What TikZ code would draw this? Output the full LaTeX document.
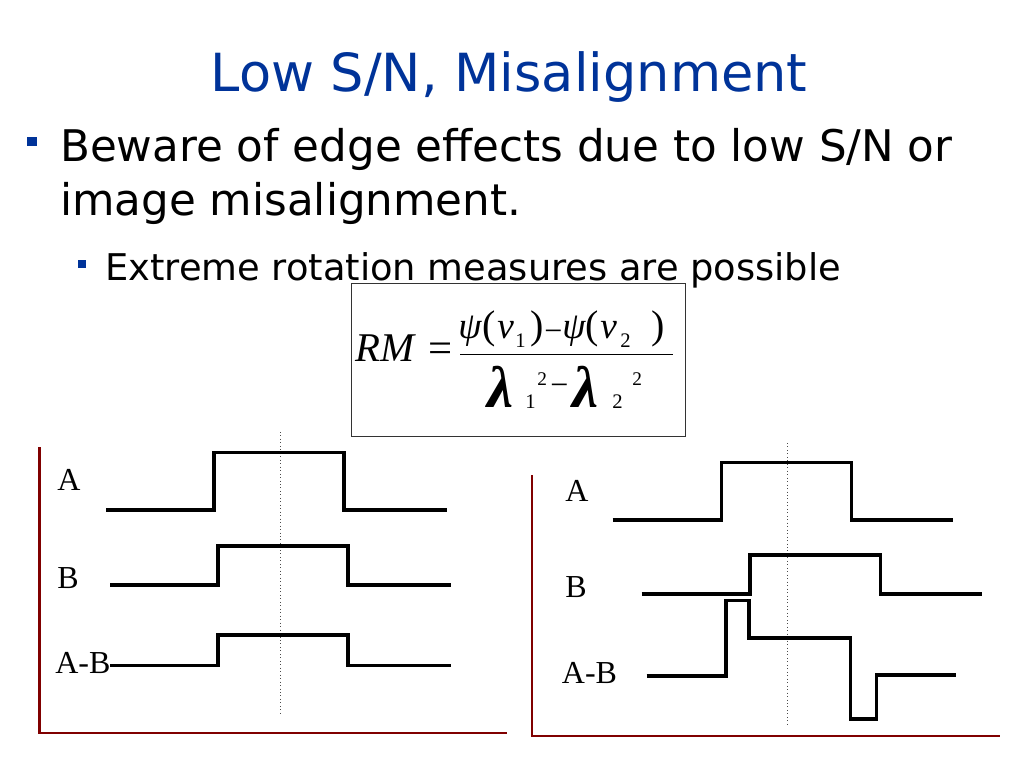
\documentclass[tikz,border=0pt]{standalone}
\usepackage{fontspec}
\setmainfont{DejaVu Sans}
\newfontfamily\tnr{Liberation Serif}
\definecolor{titleblue}{RGB}{0,51,153}
\definecolor{axisred}{RGB}{128,0,0}
\begin{document}
\begin{tikzpicture}[x=0.75pt,y=-0.75pt,
  txt/.style={inner sep=0pt, anchor=base west},
  wave/.style={line width=2.3pt, black},
  axisline/.style={draw=axisred, line width=2pt},
  guide/.style={dotted, line width=0.6pt, black!70},
  bul/.style={fill=titleblue},
  numf/.style={txt, font={\tnr\fontsize{32}{36}\selectfont}},
  parf/.style={txt, font={\tnr\fontsize{30}{34}\selectfont}},
  psif/.style={txt, font={\tnr\itshape\fontsize{28}{32}\selectfont}},
  nuf/.style={txt, font={\tnr\itshape\fontsize{28}{32}\selectfont}},
  minf/.style={txt, font={\tnr\fontsize{24}{28}\selectfont}},
  subf/.style={txt, font={\tnr\fontsize{15.5}{18}\selectfont}},
  supf/.style={txt, font={\tnr\fontsize{14.5}{17}\selectfont}},
  lam/.style={txt, font={\tnr\bfseries\itshape\fontsize{44}{50}\selectfont}},
  lab/.style={txt, font={\tnr\fontsize{24}{28}\selectfont}}]
\path[use as bounding box] (0,0) rectangle (1024,768);
% title
\node[anchor=base, inner sep=0pt, text=titleblue, font={\fontsize{39.4}{47}\selectfont}] (title) at (509,91.7) {Low S/N, Misalignment};
% bullets
\fill[bul] (26.7,136.7) rectangle (36.7,145.7);
\node[txt, font={\fontsize{32.7}{39}\selectfont}] (l1) at (60,161.7) {Beware of edge effects due to low S/N or};
\node[txt, font={\fontsize{32.7}{39}\selectfont}] (l2) at (60,215) {image misalignment.};
\fill[bul] (78,260) rectangle (86,268);
\node[txt, font={\fontsize{27.6}{33}\selectfont}] (l3) at (105,280) {Extreme rotation measures are possible};
% formula box
\draw[line width=0.75pt, black!80] (351,283) rectangle (685,436);
\node[txt, font={\tnr\itshape\fontsize{30.6}{36}\selectfont}] (rm) at (355,361.7) {RM};
\node[numf] (eq) at (428,362) {=};
\node[psif] (psia) at (458,338) {ψ};
\node[parf] (pa1) at (482,338) {(};
\node[nuf] (nua) at (497,338) {ν};
\node[subf] (nsa) at (515,347) {1};
\node[parf] (pa2) at (530,338) {)};
\node[minf] (nmin) at (544,341) {−};
\node[psif] (psib) at (562,338) {ψ};
\node[parf] (pb1) at (585,338) {(};
\node[nuf] (nub) at (600,338) {ν};
\node[subf] (nsb) at (620,347) {2};
\node[parf] (pb2) at (651,338) {)};
\draw[line width=0.9pt] (460,354.3) -- (673,354.3);
\node[lam] (lama) at (487,407) {λ};
\node[subf] (lsa) at (525,408) {1};
\node[supf] (lpa) at (537,385) {2};
\node[minf] (dmin) at (550,395) {−};
\node[lam] (lamb) at (572,407) {λ};
\node[subf] (lsb) at (612,408) {2};
\node[supf] (lpb) at (632,385) {2};
% left plot
\draw[axisline] (39.5,447) -- (39.5,733) -- (507,733);
\draw[guide] (280.7,432) -- (280.7,716);
\node[lab] (la) at (57,490) {A};
\node[lab] (lb) at (57,588) {B};
\node[lab] (lab1) at (55,673) {A-B};
\draw[wave] (106,510) -- (214,510) -- (214,452.7) -- (344,452.7) -- (344,510) -- (447,510);
\draw[wave] (110,585) -- (218,585) -- (218,546) -- (348,546) -- (348,585) -- (451,585);
\draw[wave] (110,665.7) -- (218,665.7) -- (218,635) -- (348,635) -- (348,665.7) -- (451,665.7);
% right plot
\draw[axisline] (532,475) -- (532,736) -- (1000,736);
\draw[guide] (787.7,443) -- (787.7,725);
\node[lab] (ra) at (565,501) {A};
\node[lab] (rb) at (565,597.7) {B};
\node[lab] (rab) at (561.7,683) {A-B};
\draw[wave] (612.7,520) -- (721.7,520) -- (721.7,462.7) -- (851.7,462.7) -- (851.7,520) -- (953,520);
\draw[wave] (641.7,594) -- (750,594) -- (750,555) -- (880.7,555) -- (880.7,594) -- (982,594);
\draw[wave] (646.7,676) -- (726,676) -- (726,600.7) -- (749,600.7) -- (749,638) -- (850.7,638) -- (850.7,719) -- (876.7,719) -- (876.7,675) -- (956,675);
\end{tikzpicture}
\end{document}
